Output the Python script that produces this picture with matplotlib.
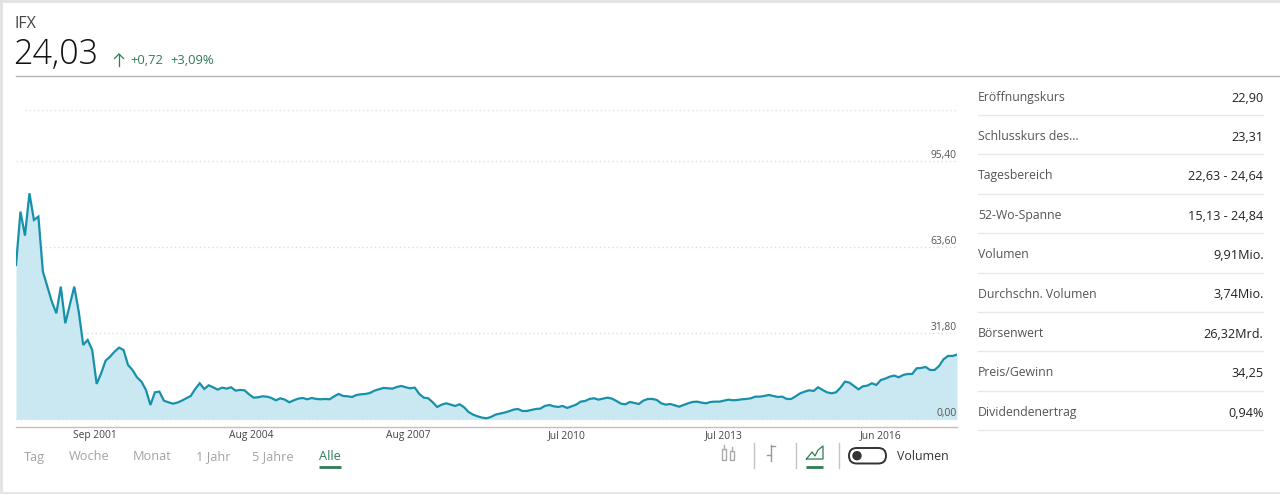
import matplotlib
matplotlib.use("Agg")
import matplotlib.pyplot as plt
from matplotlib.patches import Circle, FancyBboxPatch, Rectangle

plt.rcParams["font.family"] = ["Open Sans", "DejaVu Sans"]

# monthly close
prices = [
    57.07, 76.79, 67.92, 83.57, 73.71, 74.94, 54.60, 49.06, 43.51, 39.20,
    49.06, 35.50, 42.28, 49.06, 39.81, 27.49, 29.34, 25.64, 13.07, 17.01,
    21.69, 23.17, 25.02, 26.50, 25.64, 20.09, 18.24, 15.53, 13.93, 10.85,
    5.30, 9.98, 10.23, 6.90, 6.29, 5.79, 6.16, 6.90, 7.77, 8.63,
    11.22, 13.31, 11.22, 12.57, 11.83, 10.97, 11.71, 11.34, 11.83, 10.60,
    10.85, 10.72, 9.24, 8.01, 8.14, 8.50, 8.38, 7.89, 7.03, 7.77,
    7.27, 6.29, 7.03, 7.64, 7.89, 7.40, 7.89, 7.52, 7.40, 7.52,
    7.40, 8.50, 9.37, 8.63, 8.50, 8.26, 9.00, 9.24, 9.37, 9.74,
    10.60, 11.09, 11.59, 11.46, 11.34, 11.96, 12.33, 11.83, 11.46, 11.71,
    9.37, 8.01, 7.77, 6.29, 4.56, 5.42, 5.92, 5.42, 4.93, 5.55,
    4.44, 2.71, 1.73, 1.11, 0.62, 0.37, 0.86, 1.73, 2.10, 2.47,
    2.96, 3.57, 3.82, 3.08, 3.08, 3.45, 3.82, 3.94, 4.93, 5.30,
    4.81, 4.56, 4.93, 4.19, 4.81, 5.42, 6.53, 6.78, 7.52, 7.77,
    7.27, 7.64, 8.01, 7.64, 6.78, 5.79, 5.55, 6.41, 6.04, 5.67,
    6.90, 7.52, 7.52, 7.15, 5.92, 5.42, 5.67, 5.18, 4.68, 5.30,
    5.92, 6.41, 6.53, 6.16, 5.92, 6.41, 6.53, 6.53, 6.90, 7.27,
    7.03, 7.15, 7.40, 7.52, 7.77, 8.38, 8.38, 8.63, 9.00, 8.63,
    8.26, 8.38, 7.52, 7.52, 8.50, 9.61, 10.23, 10.72, 10.48, 11.83,
    10.85, 9.98, 9.61, 9.98, 11.71, 13.93, 13.56, 12.33, 11.09, 12.20,
    12.45, 13.31, 12.70, 14.54, 15.04, 15.78, 16.15, 15.53, 16.39, 16.76,
    16.76, 18.86, 18.98, 19.35, 18.24, 18.24, 19.72, 22.19, 23.42, 23.42,
    23.91,
]
months = list(range(len(prices)))

x_tick_pos = [17.5, 52.5, 87.5, 123, 158, 193]
x_tick_labels = ["Sep 2001", "Aug 2004", "Aug 2007", "Jul 2010", "Jul 2013", "Jun 2016"]
y_ticks = [0, 31.8, 63.6, 95.4]
y_tick_labels = ["0,00", "31,80", "63,60", "95,40"]

stat_names = ["Eröffnungskurs", "Schlusskurs des...", "Tagesbereich", "52-Wo-Spanne", "Volumen",
              "Durchschn. Volumen", "Börsenwert", "Preis/Gewinn", "Dividendenertrag"]
stat_values = ["22,90", "23,31", "22,63 - 24,64", "15,13 - 24,84", "9,91Mio.",
               "3,74Mio.", "26,32Mrd.", "34,25", "0,94%"]
ranges = ["Tag", "Woche", "Monat", "1 Jahr", "5 Jahre", "Alle"]

GREEN = "#2f7d55"
LINE = "#1791a9"
FILL = "#c9e8f1"
GREY = "#a3a3a3"
W, H = 1280, 495

fig = plt.figure(figsize=(W / 100, H / 100), dpi=100, facecolor="white")

# page layer, in pixels
ui = fig.add_axes([0, 0, 1, 1])
ui.set_xlim(0, W)
ui.set_ylim(H, 0)
ui.axis("off")

# outer frame
ui.plot([1, 1], [1, 492], color="#e2e2e2", lw=2)
ui.plot([1, W], [1, 1], color="#e2e2e2", lw=2)
ui.plot([1, W], [492.5, 492.5], color="#e6e6e6", lw=1.5)
ui.plot([16, W], [75.5, 75.5], color="#b4b4b4", lw=1)

# header
ui.text(14.5, 24.5, "IFX", fontsize=11.5, color="#444444", va="center")
ui.text(13, 55, "24,03", fontsize=24.5, color="#111111", va="center", fontweight="light")
ui.plot([119, 119], [54, 66], color=GREEN, lw=0.9)
ui.plot([114.5, 119, 123.5], [58.5, 54, 58.5], color=GREEN, lw=0.9)
ui.text(130, 61, "+0,72", fontsize=9.4, color=GREEN, va="center")
ui.text(170, 61, "+3,09%", fontsize=9.4, color=GREEN, va="center")

# stats table
for i, (name, value) in enumerate(zip(stat_names, stat_values)):
    yc = 97 + i * 39.4
    ui.text(978, yc, name, fontsize=8.8, color="#555555", va="center")
    ui.text(1263.5, yc + 1, value, fontsize=9.1, color="#222222", va="center", ha="right")
    ui.plot([978, 1263], [115 + i * 39.4] * 2, color="#e8e8e8", lw=1)

# range tabs
for label, x in zip(ranges, [24, 69, 133, 196, 252, 319]):
    active = label == "Alle"
    ui.text(x, 457, label, fontsize=9.2, color=GREEN if active else GREY, va="center")
ui.plot([319, 341], [467, 467], color=GREEN, lw=2, solid_capstyle="butt")

# chart type icons
ui.add_patch(Rectangle((722, 449), 3.6, 11, fill=False, ec="#aaaaaa", lw=1))
ui.add_patch(Rectangle((730.3, 451), 3.8, 9, fill=False, ec="#aaaaaa", lw=1))
ui.plot([723.8, 723.8], [445, 449], color="#aaaaaa", lw=1)
ui.plot([732.2, 732.2], [447, 451], color="#aaaaaa", lw=1)
ui.plot([770.7, 770.7], [445, 461], color="#999999", lw=1)
ui.plot([770.7, 775], [446, 446], color="#999999", lw=1)
ui.plot([766.5, 770.7], [455, 455], color="#999999", lw=1)
for x in [753.7, 796.3, 839]:
    ui.plot([x, x], [443, 468], color="#c4c4c4", lw=1)
ui.plot([806.5, 812, 815, 818, 823, 823, 806.5], [459, 452, 456, 450, 446, 459, 459], color=GREEN, lw=0.9)
ui.plot([806, 823], [466.7, 466.7], color=GREEN, lw=2, solid_capstyle="butt")
ui.add_patch(FancyBboxPatch((849, 448), 37, 15.5, boxstyle="round,pad=0,rounding_size=7.7", fill=False,
                            ec="#333333", lw=1.4))
ui.add_patch(Circle((857, 455.7), 4, color="#333333"))
ui.text(897, 456.5, "Volumen", fontsize=8.9, color="#333333", va="center")

# price chart
PX_PER_UNIT = 86 / 31.8
top, bottom = 100, 426.7
ax = fig.add_axes([16 / W, 1 - bottom / H, (957 - 16) / W, (bottom - top) / H])
ax.patch.set_alpha(0)
ax.set_xlim(0, len(prices) - 1)
ax.set_ylim(-(bottom - 419.3) / PX_PER_UNIT, (419.3 - top) / PX_PER_UNIT)

ax.fill_between(months, prices, 0, color=FILL, lw=0)
ax.plot(months, prices, color=LINE, lw=1.6, solid_joinstyle="miter")

for v in y_ticks:
    ax.axhline(v, color="#dcdcdc", lw=1, ls=(0, (1, 2)), zorder=0.5)
ax.hlines(114.4, 2, len(prices) - 1, color="#e2e2e2", lw=1, ls=(0, (1, 2)), zorder=0.5)

for v, label in zip(y_ticks, y_tick_labels):
    ax.annotate(label, xy=(1, v), xycoords=("axes fraction", "data"), xytext=(0, 5.5),
                textcoords="offset pixels", ha="right", va="center", fontsize=7.4, color="#555555")

for side in ["top", "left", "right"]:
    ax.spines[side].set_visible(False)
ax.spines["bottom"].set_color("#c9bdb5")
ax.spines["bottom"].set_linewidth(1)
ax.set_yticks([])
ax.set_xticks(x_tick_pos)
ax.set_xticklabels(x_tick_labels, fontsize=7.4, color="#444444")
ax.tick_params(axis="x", length=0, pad=2.5)

fig.savefig("out.png", dpi=100, facecolor="white")
